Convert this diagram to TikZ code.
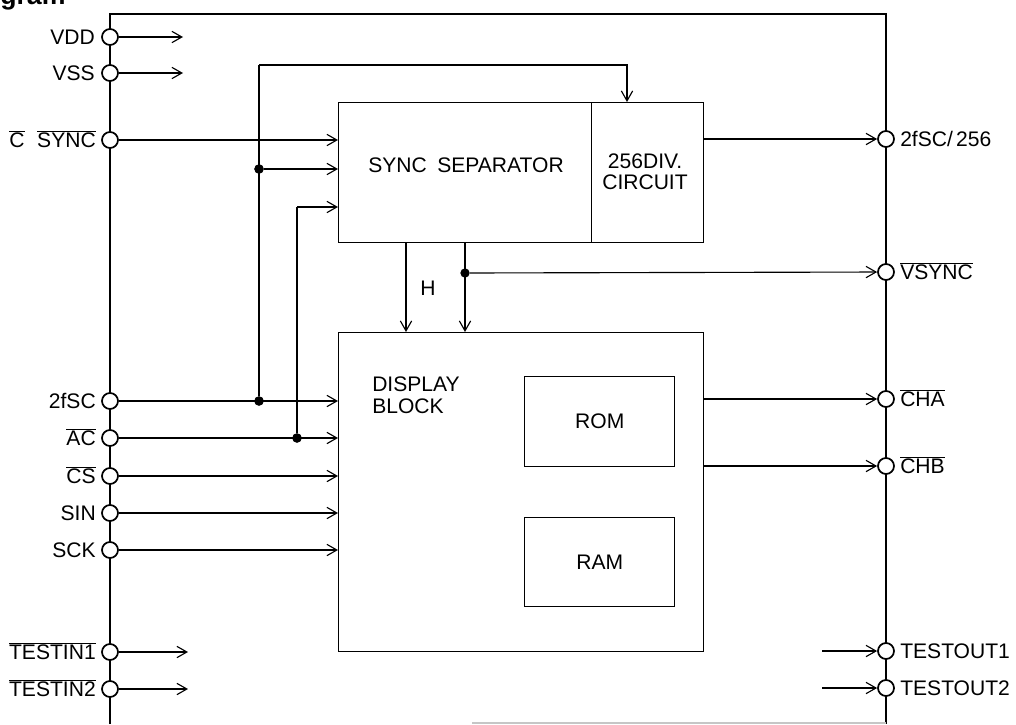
\documentclass[tikz,border=0pt]{standalone}
\usepackage{fontspec}
\setmainfont{Liberation Sans}
\usetikzlibrary{arrows.meta,calc}
\newcommand\ovl[1]{$\overline{\mbox{#1}}$}
\begin{document}
\begin{tikzpicture}[x=0.75pt,y=-0.75pt,
  font=\fontsize{15.8}{16}\selectfont,
  wire/.style={line width=0.85pt},
  sig/.style={wire,-{Straight Barb[length=7.5pt,width=8.5pt,line width=0.85pt]}},
  pin/.style={circle,draw,fill=white,line width=1.3pt,minimum size=12pt,inner sep=0pt},
  jdot/.style={circle,fill,inner sep=0pt,minimum size=7pt},
  blk/.style={draw,line width=1.1pt,inner sep=0pt,anchor=north west},
  lab/.style={inner sep=0pt},
  llab/.style={lab,anchor=base east},
  rlab/.style={lab,anchor=base west},
]
\useasboundingbox (0,0) rectangle (1016,724);
\node[lab,anchor=base west,font=\fontsize{20}{22}\selectfont\bfseries] (title) at (0,5) {gram};
% frame
\draw[line width=2.1pt,line join=miter] (110,724) -- (110,14) -- (886,14) -- (886,724);
\draw[gray!45,line width=0.8pt] (472,723) -- (886,723);

% blocks
\node[blk,minimum width=189.75pt,minimum height=105pt] (sync) at (338,102) {};
\node[blk,minimum width=84pt,minimum height=105pt] (div) at (591,102) {};
\node[lab] (synct) at (466,165) {SYNC\hspace{0.5em}SEPARATOR};
\node[lab,align=center] (divt) at (645,172) {256DIV.\\CIRCUIT};
\node[blk,minimum width=273.75pt,minimum height=239.25pt] (disp) at (338,332) {};
\node[blk,minimum width=112.5pt,minimum height=67.5pt] (rom) at (524,376) {};
\node[lab] (romt) at (rom.center) {ROM};
\node[blk,minimum width=112.5pt,minimum height=66.75pt] (ram) at (524,517) {};
\node[lab] (ramt) at (ram.center) {RAM};
\node[lab,anchor=north west,align=left] (dispt) at (372,377) {DISPLAY\\BLOCK};
\node[lab] (hl) at (428,288) {H};

% junction dots and coordinates
\node[jdot] (d1) at (259,169) {};
\node[jdot] (d2) at (259,401) {};
\node[jdot] (d3) at (297,438) {};
\node[jdot] (d4) at (465,273) {};
\coordinate (t1) at (259,65);
\coordinate (t2) at (297,207);
\coordinate (divin) at (627,102);
\coordinate (vddo) at (183,37);
\coordinate (vsso) at (183,73);
\coordinate (ti1o) at (188,652);
\coordinate (ti2o) at (188,689);
\coordinate (to1i) at (822,651);
\coordinate (to2i) at (822,688);

% wiring (drawn before pins so circles sit on top)
\draw[wire] (d2) -- (t1);
\draw[sig] (t1) -| (divin);
\draw[sig] (d1) -- (d1 -| sync.west);
\draw[wire] (d3) -- (t2);
\draw[sig] (t2) -- (t2 -| sync.west);
\draw[sig] ($(sync.south west)+(68,0)$) -- ($(disp.north west)+(68,0)$);
\draw[sig] ($(sync.south west)+(127,0)$) -- ($(disp.north west)+(127,0)$);

% left pins
\node[pin] (vdd) at (110,37) {};
\node[pin] (vss) at (110,73) {};
\node[pin] (csync) at (110,140) {};
\node[pin] (fsc) at (110,401) {};
\node[pin] (ac) at (110,438) {};
\node[pin] (cs) at (110,476) {};
\node[pin] (sin) at (110,513) {};
\node[pin] (sck) at (110,550) {};
\node[pin] (ti1) at (110,652) {};
\node[pin] (ti2) at (110,689) {};
\node[llab] (lvdd) at (95,44.5) {VDD};
\node[llab] (lvss) at (95,80.5) {VSS};
\node[llab] (lcsync) at (96,147.5) {\ovl{C}\hspace{0.6em}\ovl{SYNC}};
\node[llab] (lfsc) at (96,408.5) {2fSC};
\node[llab] (lac) at (96,445.5) {\ovl{AC}};
\node[llab] (lcs) at (96,483.5) {\ovl{CS}};
\node[llab] (lsin) at (96,520.5) {SIN};
\node[llab] (lsck) at (96,557.5) {SCK};
\node[llab] (lti1) at (96,659.5) {\ovl{TESTIN1}};
\node[llab] (lti2) at (96,696.5) {\ovl{TESTIN2}};

% right pins
\node[pin] (div256) at (886,139) {};
\node[pin] (vsync) at (886,272) {};
\node[pin] (cha) at (886,399) {};
\node[pin] (chb) at (886,466) {};
\node[pin] (to1) at (886,651) {};
\node[pin] (to2) at (886,688) {};
\node[rlab] (ldiv256) at (900,146.5) {2fSC/\hspace{0.15em}256};
\node[rlab] (lvsync) at (900,279.5) {\ovl{VSYNC}};
\node[rlab] (lcha) at (900,406.5) {\ovl{CHA}};
\node[rlab] (lchb) at (900,473.5) {\ovl{CHB}};
\node[rlab] (lto1) at (900,658.5) {TESTOUT1};
\node[rlab] (lto2) at (900,695.5) {TESTOUT2};

% pin connections
\draw[sig] (vdd) -- (vddo);
\draw[sig] (vss) -- (vsso);
\draw[sig] (ti1) -- (ti1o);
\draw[sig] (ti2) -- (ti2o);
\draw[sig] (csync) -- (csync -| sync.west);
\draw[sig] (fsc) -- (fsc -| disp.west);
\draw[sig] (ac) -- (ac -| disp.west);
\draw[sig] (cs) -- (cs -| disp.west);
\draw[sig] (sin) -- (sin -| disp.west);
\draw[sig] (sck) -- (sck -| disp.west);
\draw[sig] (div256 -| div.east) -- (div256);
\draw[sig] (d4) -- (vsync);
\draw[sig] (cha -| disp.east) -- (cha);
\draw[sig] (chb -| disp.east) -- (chb);
\draw[sig] (to1i) -- (to1);
\draw[sig] (to2i) -- (to2);
% redraw dots on top
\node[jdot] at (d1) {};
\node[jdot] at (d2) {};
\node[jdot] at (d3) {};
\end{tikzpicture}
\end{document}
